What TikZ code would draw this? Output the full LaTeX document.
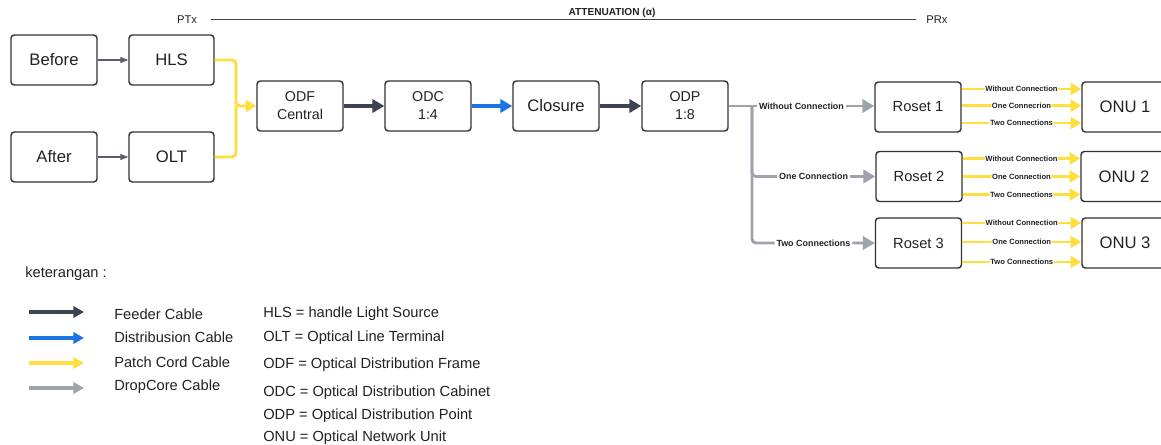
\documentclass[tikz,border=0pt]{standalone}
\usepackage{fontspec}
\setmainfont{Liberation Sans}
\usetikzlibrary{arrows.meta}
\definecolor{boxc}{HTML}{333333}
\definecolor{feedc}{HTML}{3D4350}
\definecolor{bluec}{HTML}{1B74E4}
\definecolor{yelc}{HTML}{FFDF3F}
\definecolor{grayc}{HTML}{9EA3AC}
\definecolor{txtc}{HTML}{222222}
\newcommand\fbig{\fontsize{12.5}{15}\selectfont}
\newcommand\fmid{\fontsize{10.7}{13.5}\selectfont}
\newcommand\frs{\fontsize{11}{13}\selectfont}
\newcommand\fleg{\fontsize{11}{13}\selectfont}
\newcommand\ftiny{\fontsize{5.7}{6.5}\selectfont\bfseries}
\newcommand\fbranch{\fontsize{6.7}{8}\selectfont\bfseries}
\begin{document}
\begin{tikzpicture}[x=0.75pt,y=-0.75pt,
  box/.style={draw=boxc, line width=1.1pt, rounded corners=2.5pt, minimum width=64.5pt, minimum height=37.5pt, inner sep=0pt, align=center, fill=white, text=txtc},
  feeder/.style={draw=feedc, line width=2.6pt, -{Triangle[length=9pt,width=10pt]}},
  distrib/.style={draw=bluec, line width=2.6pt, -{Triangle[length=9pt,width=10pt]}},
  patch/.style={draw=yelc, line width=2.2pt, rounded corners=3pt, -{Triangle[length=8pt,width=9pt]}},
  patchline/.style={draw=yelc, line width=2.2pt, rounded corners=3pt},
  drop/.style={draw=grayc, line width=2.2pt, rounded corners=3pt, -{Triangle[length=9pt,width=10pt]}},
  thinarrow/.style={draw=feedc!85, line width=0.8pt, -{Triangle[length=6pt,width=4.5pt]}},
  legarrow/.style={line width=2.3pt, -{Triangle[length=8pt,width=8.5pt]}},
  tl/.style={font=\ftiny, text=txtc, fill=white, inner sep=0.6pt},
  bl/.style={font=\fbranch, text=txtc, fill=white, inner sep=1.5pt},
  legtext/.style={anchor=west, font=\fleg, text=txtc, inner sep=0pt},
  attline/.style={draw=feedc, line width=1.1pt}
]
\fill[white] (0,0) rectangle (1161,445);
\useasboundingbox (0,0) rectangle (1161,445);

% attenuation
\node[font=\fontsize{8.4}{10}\selectfont, text=txtc, inner sep=0pt] (ptx) at (187,19.5) {PTx};
\node[font=\fontsize{8.4}{10}\selectfont, text=txtc, inner sep=0pt] (prx) at (937,19.5) {PRx};
\draw[attline] ([xshift=10.5pt]ptx.east) -- ([xshift=-7.5pt]prx.west);
\node[font=\fontsize{7.6}{9}\selectfont\bfseries, text=txtc, inner sep=0pt] (att) at (612,13) {ATTENUATION (α)};

% boxes
\node[box,font=\fbig] (before) at (54,60) {Before};
\node[box,font=\fbig,minimum width=63.75pt] (hls) at (171.5,60) {HLS};
\node[box,font=\fbig] (after) at (54,157) {After};
\node[box,font=\fbig,minimum width=63.75pt] (olt) at (171.5,157) {OLT};
\node[box,font=\fmid] (odf) at (300,106) {ODF\\Central};
\node[box,font=\fmid] (odc) at (428,106) {ODC\\1:4};
\node[box,font=\fbig] (clo) at (556,106) {Closure};
\node[box,font=\fmid] (odp) at (685,106) {ODP\\1:8};
\node[box,font=\frs] (r1) at (918,107) {Roset 1};
\node[box,font=\frs] (r2) at (919,176.5) {Roset 2};
\node[box,font=\frs] (r3) at (918.5,243) {Roset 3};
\node[box,font=\fbig] (o1) at (1125,107) {ONU 1};
\node[box,font=\fbig] (o2) at (1124,176.5) {ONU 2};
\node[box,font=\fbig] (o3) at (1125,243) {ONU 3};

% left part
\draw[thinarrow] (before) -- (hls);
\draw[thinarrow] (after) -- (olt);
\coordinate (pm) at (236,106);
\draw[patchline] (olt.east) -| (pm);
\draw[patch] (hls.east) -| (pm) -- (odf.west);

% main chain
\draw[feeder] (odf) -- (odc);
\draw[distrib] (odc) -- (clo);
\draw[feeder] (clo) -- (odp);

% drop core branch
\coordinate (br) at (752,106);
\draw[drop] (odp.east) -- node[bl]{Without Connection} (odp.east -| r1.west);
\draw[drop] (br) |- node[pos=0.75,bl]{One Connection} (r2.west);
\draw[drop] (br) |- node[pos=0.75,bl]{Two Connections} (r3.west);

% roset -> onu
\coordinate (r1a) at ([yshift=13.5pt]r1.east);
\coordinate (r1b) at ([yshift=1pt]r1.east);
\coordinate (r1c) at ([yshift=-12pt]r1.east);
\draw[patch] (r1a) -- node[tl]{Without Connection} (r1a -| o1.west);
\draw[patch] (r1b) -- node[tl]{One Connecrion} (r1b -| o1.west);
\draw[patch] (r1c) -- node[tl]{Two Connections} (r1c -| o1.west);
\coordinate (r2a) at ([yshift=13.5pt]r2.east);
\coordinate (r2b) at ([yshift=0pt]r2.east);
\coordinate (r2c) at ([yshift=-13.5pt]r2.east);
\draw[patch] (r2a) -- node[tl]{Without Connection} (r2a -| o2.west);
\draw[patch] (r2b) -- node[tl]{One Connection} (r2b -| o2.west);
\draw[patch] (r2c) -- node[tl]{Two Connections} (r2c -| o2.west);
\coordinate (r3a) at ([yshift=15pt]r3.east);
\coordinate (r3b) at ([yshift=0.75pt]r3.east);
\coordinate (r3c) at ([yshift=-14.25pt]r3.east);
\draw[patch] (r3a) -- node[tl]{Without Connection} (r3a -| o3.west);
\draw[patch] (r3b) -- node[tl]{One Connection} (r3b -| o3.west);
\draw[patch] (r3c) -- node[tl]{Two Connections} (r3c -| o3.west);

% legend
\node[legtext] (ket) at (25,274) {keterangan :};
\coordinate (la1) at (29,312); \coordinate (la2) at (84,312);
\coordinate (lb1) at (29,338); \coordinate (lb2) at (84,338);
\coordinate (lc1) at (29,363); \coordinate (lc2) at (84,363);
\coordinate (ld1) at (29,388); \coordinate (ld2) at (84,388);
\draw[legarrow, draw=feedc] (la1) -- (la2);
\draw[legarrow, draw=bluec] (lb1) -- (lb2);
\draw[legarrow, draw=yelc] (lc1) -- (lc2);
\draw[legarrow, draw=grayc] (ld1) -- (ld2);
\node[legtext] (lt1) at (114,314) {Feeder Cable};
\node[legtext] (lt2) at (114,337.5) {Distribusion Cable};
\node[legtext] (lt3) at (114,362) {Patch Cord Cable};
\node[legtext] (lt4) at (114,387) {DropCore Cable};

\node[legtext] (d1) at (263,314) {HLS = handle Light Source};
\node[legtext] (d2) at (263,338) {OLT = Optical Line Terminal};
\node[legtext] (d3) at (263,365) {ODF = Optical Distribution Frame};
\node[legtext] (d4) at (263,393) {ODC = Optical Distribution Cabinet};
\node[legtext] (d5) at (263,416) {ODP = Optical Distribution Point};
\node[legtext] (d6) at (263,437.5) {ONU = Optical Network Unit};
\end{tikzpicture}
\end{document}
